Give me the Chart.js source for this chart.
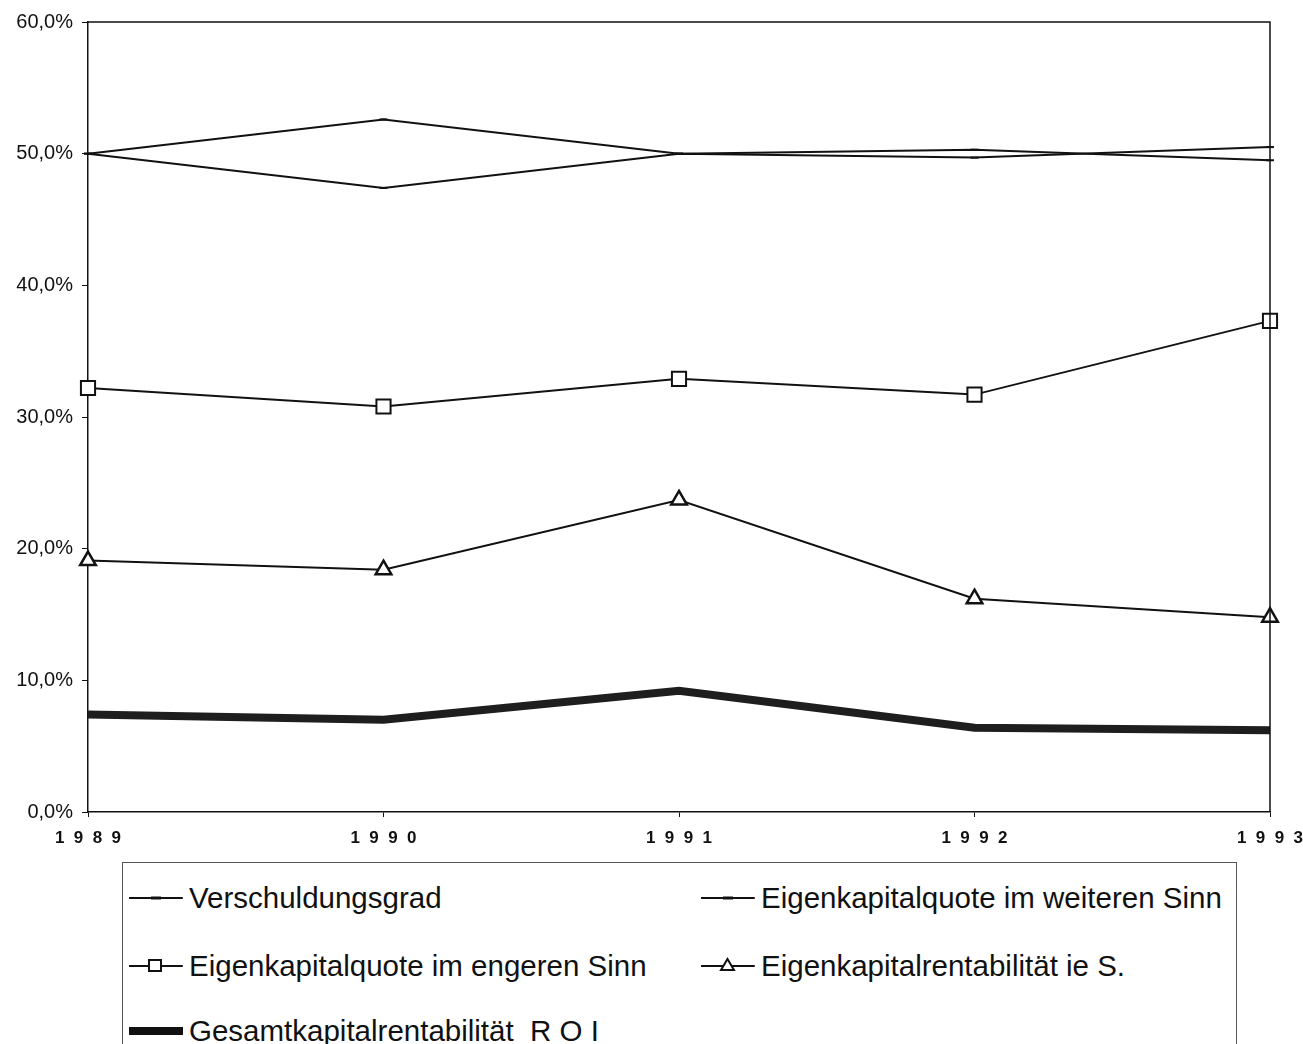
<!DOCTYPE html>
<html>
<head>
<meta charset="utf-8">
<script src="https://cdn.jsdelivr.net/npm/chart.js@4"></script>
<style>
    body { margin: 0; background: #fff; width: 1303px; height: 1044px; overflow: hidden; position: relative; font-family: "Liberation Sans", Arial, sans-serif; }
    #wrap { position: absolute; left: 0; top: 0; width: 1303px; height: 850px; }
    #legend { position: absolute; left: 122px; top: 862px; width: 1115px; height: 200px; border: 1px solid #555; box-sizing: border-box; }
    .item { position: absolute; display: flex; align-items: center; font-size: 29.5px; color: #111; white-space: nowrap; }
    .item span { white-space: pre; }
    .item svg { margin-right: 6px; }
</style>
</head>
<body>
<div id="wrap"><canvas id="chart" width="1303" height="850"></canvas></div>
<div id="legend"></div>
<script>
const years = ['1989', '1990', '1991', '1992', '1993'];
const verschuldungsgrad = [50.0, 52.6, 50.0, 50.3, 49.5];
const ekQuoteWeiter = [50.0, 47.4, 50.0, 49.7, 50.5];
const ekQuoteEnger = [32.2, 30.8, 32.9, 31.7, 37.3];
const ekRentabilitaet = [19.1, 18.4, 23.7, 16.2, 14.8];
const roi = [7.4, 7.0, 9.2, 6.4, 6.2];
const yTicks = [0, 10, 20, 30, 40, 50, 60];

const seriesNames = [
    'Verschuldungsgrad',
    'Eigenkapitalquote im weiteren Sinn',
    'Eigenkapitalquote im engeren Sinn',
    'Eigenkapitalrentabilität ie S.',
    'Gesamtkapitalrentabilität  R O I'
];

// frame on top and right of the plot area
const framePlugin = {
    id: 'frame',
    afterDraw(chart) {
        const { ctx, chartArea: a } = chart;
        ctx.save();
        ctx.strokeStyle = '#111';
        ctx.lineWidth = 1.5;
        ctx.beginPath();
        ctx.moveTo(a.left, a.top);
        ctx.lineTo(a.right, a.top);
        ctx.lineTo(a.right, a.bottom);
        ctx.stroke();
        ctx.restore();
    }
};

new Chart(document.getElementById('chart'), {
    type: 'line',
    data: {
        labels: years,
        datasets: [
            { label: seriesNames[0], data: verschuldungsgrad, borderColor: '#111', borderWidth: 2, pointStyle: 'line', pointRadius: 4, pointBorderColor: '#111', pointBorderWidth: 2 },
            { label: seriesNames[1], data: ekQuoteWeiter, borderColor: '#111', borderWidth: 2, pointStyle: 'line', pointRadius: 4, pointBorderColor: '#111', pointBorderWidth: 2 },
            { label: seriesNames[2], data: ekQuoteEnger, borderColor: '#111', borderWidth: 2, pointStyle: 'rect', pointRadius: 10, pointBackgroundColor: '#fff', pointBorderColor: '#111', pointBorderWidth: 2 },
            { label: seriesNames[3], data: ekRentabilitaet, borderColor: '#111', borderWidth: 2, pointStyle: 'triangle', pointRadius: 9, pointBackgroundColor: '#fff', pointBorderColor: '#111', pointBorderWidth: 2.5 },
            { label: seriesNames[4], data: roi, borderColor: '#1e1e1e', borderWidth: 8, pointRadius: 0 }
        ]
    },
    options: {
        responsive: false,
        animation: false,
        layout: { padding: { top: 22, right: 33, left: 0, bottom: 0 } },
        plugins: { legend: { display: false }, tooltip: { enabled: false } },
        scales: {
            x: {
                offset: false,
                afterFit(s) {
                    s.height = 38;
                    s.paddingLeft = 0;
                    s.paddingRight = 0;
                },
                grid: { display: true, drawOnChartArea: false, drawTicks: true, tickLength: 5, color: '#111' },
                border: { display: true, color: '#111', width: 1.5 },
                ticks: {
                    color: '#111',
                    font: { family: '"Liberation Sans", Arial', size: 17, weight: 'bold' },
                    padding: 11,
                    maxRotation: 0,
                    callback(v) { return years[v].split('').join('  '); }
                }
            },
            y: {
                min: 0,
                max: 60,
                afterFit(s) { s.width = 88; },
                afterBuildTicks(s) { s.ticks = yTicks.map(v => ({ value: v })); },
                grid: { display: true, drawOnChartArea: false, drawTicks: true, tickLength: 6, color: '#111' },
                border: { display: true, color: '#111', width: 1.5 },
                ticks: {
                    color: '#111',
                    font: { family: '"Liberation Sans", Arial', size: 20 },
                    padding: 9,
                    callback(v) { return v.toFixed(1).replace('.', ',') + '%'; }
                }
            }
        }
    },
    plugins: [framePlugin]
});

// legend icons
function icon(kind) {
    let mark = '';
    let stroke = 2;
    if (kind === 'dash') mark = '<line x1="22" y1="12" x2="32" y2="12" stroke="#111" stroke-width="3"/>';
    if (kind === 'rect') mark = '<rect x="20" y="6" width="12" height="11" fill="#fff" stroke="#111" stroke-width="2"/>';
    if (kind === 'tri') mark = '<polygon points="26.5,5 33,16 20,16" fill="#fff" stroke="#111" stroke-width="2"/>';
    if (kind === 'thick') stroke = 8;
    return '<svg width="54" height="24"><line x1="0" y1="12" x2="53" y2="12" stroke="#111" stroke-width="' + stroke + '" stroke-linecap="round"/>' + mark + '</svg>';
}

const legendItems = [
    { name: seriesNames[0], kind: 'dash', x: 6, y: 35 },
    { name: seriesNames[1], kind: 'dash', x: 578, y: 35 },
    { name: seriesNames[2], kind: 'rect', x: 6, y: 103 },
    { name: seriesNames[3], kind: 'tri', x: 578, y: 103 },
    { name: seriesNames[4], kind: 'thick', x: 6, y: 168 }
];
const legend = document.getElementById('legend');
legend.innerHTML = legendItems.map(it => `
    <div class="item" style="left:${it.x}px; top:${it.y - 17}px; height:34px;">
        ${icon(it.kind)}<span>${it.name}</span>
    </div>`).join('');
</script>
</body>
</html>
